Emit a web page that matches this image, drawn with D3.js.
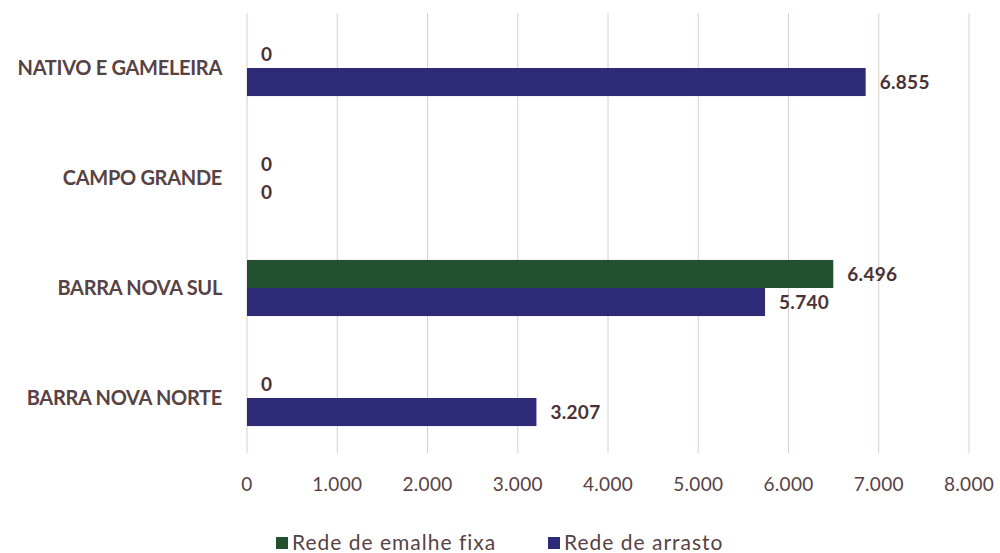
<!DOCTYPE html>
<html>
<head>
<meta charset="utf-8">
<script src="https://cdn.jsdelivr.net/npm/d3@7"></script>
<style>
  body { margin: 0; background: #fff; }
  svg { font-family: Lato, "Open Sans", sans-serif; }
</style>
</head>
<body>
<div id="chart"></div>
<script>
// dados
const categorias = ['NATIVO E GAMELEIRA', 'CAMPO GRANDE', 'BARRA NOVA SUL', 'BARRA NOVA NORTE'];
const series = ['Rede de emalhe fixa', 'Rede de arrasto'];
const emalheFixa = [0, 0, 6496, 0];
const arrasto = [6855, 0, 5740, 3207];
const ticks = [0, 1000, 2000, 3000, 4000, 5000, 6000, 7000, 8000];
const cores = ['#23502f', '#2d2a78'];

const width = 1000, height = 553;
const margin = { top: 13, right: 30, bottom: 100, left: 247 };

const svg = d3.select('#chart').append('svg')
  .attr('width', width)
  .attr('height', height);

const fmt = (v) => d3.format(',')(v).replace(/,/g, '.');

const x = d3.scaleLinear()
  .domain([0, 8000])
  .range([margin.left, margin.left + 722]);

const y = d3.scaleBand()
  .domain(categorias)
  .range([margin.top, height - margin.bottom])
  .paddingInner(0.49)
  .paddingOuter(0.245);

const ySub = d3.scaleBand()
  .domain(series)
  .range([0, y.bandwidth()]);

// linhas de grade
svg.append('g').attr('class', 'grid')
  .selectAll('line').data(ticks)
  .join('line')
  .attr('x1', (d) => x(d)).attr('x2', (d) => x(d))
  .attr('y1', margin.top).attr('y2', height - margin.bottom)
  .attr('stroke', '#dccdd1')
  .attr('stroke-width', 1);

// rótulos do eixo x
svg.append('g').attr('class', 'xlabels')
  .selectAll('text').data(ticks)
  .join('text')
  .attr('x', (d) => x(d))
  .attr('y', 491)
  .attr('text-anchor', 'middle')
  .attr('font-size', 19)
  .attr('letter-spacing', 0.3)
  .attr('fill', '#574244')
  .text((d) => fmt(d));

// categorias
svg.append('g').attr('class', 'ylabels')
  .selectAll('text').data(categorias)
  .join('text')
  .attr('x', 222)
  .attr('y', (d) => y(d) + y.bandwidth() / 2 + 7)
  .attr('text-anchor', 'end')
  .attr('font-size', 20)
  .attr('font-weight', 'bold')
  .attr('letter-spacing', -0.3)
  .attr('fill', '#574244')
  .text((d) => d);

const linhas = [];
categorias.forEach((c, i) => {
  linhas.push({ cat: c, serie: series[0], v: emalheFixa[i], cor: cores[0] });
  linhas.push({ cat: c, serie: series[1], v: arrasto[i], cor: cores[1] });
});

// barras
svg.append('g').attr('class', 'bars')
  .selectAll('rect').data(linhas)
  .join('rect')
  .attr('x', x(0))
  .attr('y', (d) => y(d.cat) + ySub(d.serie))
  .attr('width', (d) => x(d.v) - x(0))
  .attr('height', ySub.bandwidth())
  .attr('fill', (d) => d.cor);

// rótulos de dados
svg.append('g').attr('class', 'values')
  .selectAll('text').data(linhas)
  .join('text')
  .attr('x', (d) => x(d.v) + 14)
  .attr('y', (d) => y(d.cat) + ySub(d.serie) + ySub.bandwidth() / 2 + 7)
  .attr('font-size', 19)
  .attr('font-weight', 'bold')
  .attr('letter-spacing', 0.3)
  .attr('fill', '#4a3234')
  .text((d) => fmt(d.v));

// legenda
const leg = svg.append('g').attr('class', 'legend');
const legX = [276, 548];
series.forEach((s, i) => {
  leg.append('rect')
    .attr('x', legX[i]).attr('y', 537)
    .attr('width', 12).attr('height', 12)
    .attr('fill', cores[i]);
  leg.append('text')
    .attr('x', legX[i] + 16).attr('y', 550)
    .attr('font-size', 21)
    .attr('letter-spacing', 1)
    .attr('fill', '#574244')
    .text(s);
});
</script>
</body>
</html>
